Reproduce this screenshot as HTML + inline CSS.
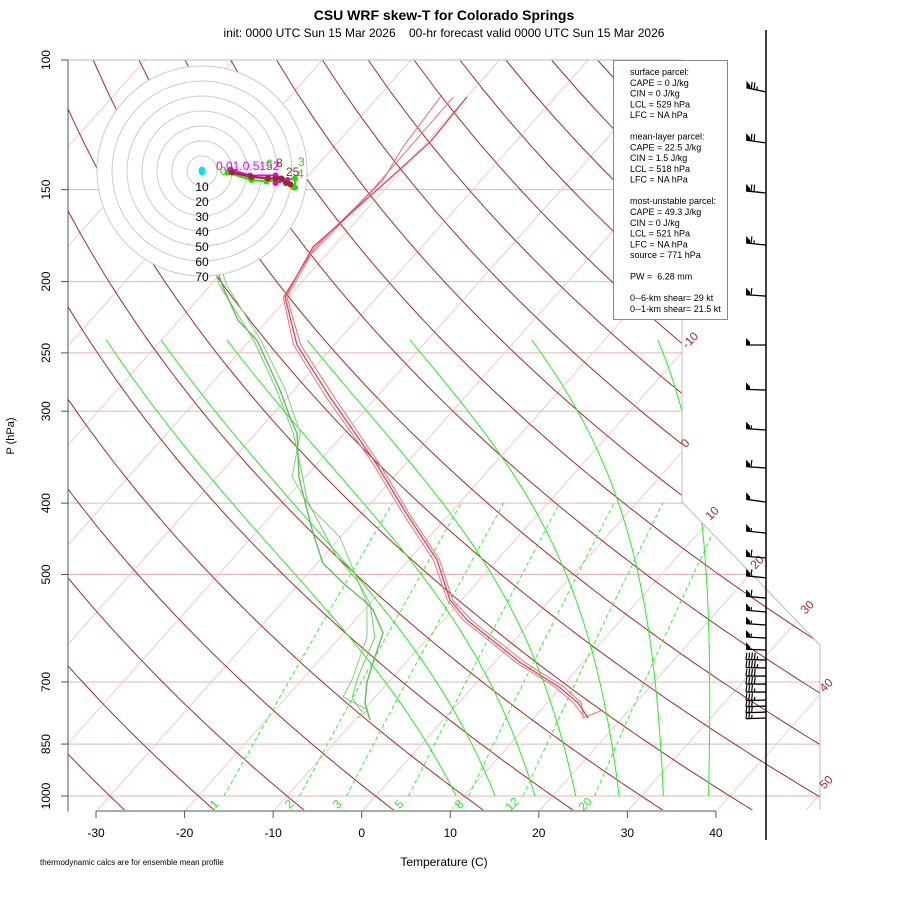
<!DOCTYPE html>
<html><head><meta charset="utf-8"><style>
body{margin:0;background:#fff}
svg{display:block;font-family:"Liberation Sans",sans-serif}
</style></head><body>
<svg id="c" width="900" height="900" viewBox="0 0 900 900">
<defs><clipPath id="clipPlot"><polygon points="68,60 682,60 682,502 820,645 820,810 68,810"/></clipPath></defs>
<g id="bg" clip-path="url(#clipPlot)"></g>
<g id="prof"></g>
<g id="hodo"></g>
<g id="axes"></g>
<g id="barbs"></g>
<text x="444" y="20" text-anchor="middle" font-size="14" font-weight="bold">CSU WRF skew-T for Colorado Springs</text>
<text x="444" y="37" text-anchor="middle" font-size="12" style="white-space:pre">init: 0000 UTC Sun 15 Mar 2026    00-hr forecast valid 0000 UTC Sun 15 Mar 2026</text>
<text x="444" y="866" text-anchor="middle" font-size="12">Temperature (C)</text>
<text transform="translate(14,436) rotate(-90)" text-anchor="middle" font-size="11">P (hPa)</text>
<text x="40" y="865" font-size="8">thermodynamic calcs are for ensemble mean profile</text>
<g>
<rect x="613.5" y="60.5" width="114" height="259" fill="#fff" stroke="#888" stroke-width="1"/>
<g id="boxtext" font-size="9"></g>
</g>
</svg>
<script>
// ---------- data ----------
const tempP1 = [783.4,747.4,711.0,659.7,576.6,541.6,477.9,412.6,352.9,287.0,243.9,209.9,179.5,166.5,145.6,129.3,112.3];
const tempT1 = [16.15,13.52,9.75,3.05,-7.37,-11.31,-16.79,-25.02,-33.44,-45.27,-54.22,-60.40,-62.27,-61.63,-60.53,-59.61,-59.96];
const tempP2 = [764.0,783.4,747.4,711.0,659.7,576.6,541.6,477.9,412.6,352.9,287.0,243.9,209.9,182.9,145.6,131.3,111.6];
const tempT2 = [17.0,15.6,13.9,10.3,3.6,-6.9,-11.0,-16.5,-24.7,-33.1,-44.8,-53.8,-60.2,-61.78,-61.1,-62.16,-62.98];
const tempP3 = [778.0,747.4,711.0,659.7,576.6,541.6,477.9,412.6,352.9,287.0,243.9,209.9,180.0,150.0,130.0,112.3];
const tempT3 = [15.4,13.0,9.3,2.6,-7.8,-11.6,-17.2,-25.4,-33.8,-45.7,-54.6,-60.6,-62.0,-61.3,-61.4,-61.5];
const dewP1 = [788.3,747.4,700.0,659.7,600.5,558.8,546.8,513.5,482.5,439.2,383.9,368.6,321.2,308.4,280.8,240.2,225.6,202.2,181.2];
const dewT1 = [-8.27,-10.55,-12.43,-13.67,-15.55,-19.0,-20.38,-25.1,-29.37,-33.51,-39.08,-40.72,-45.37,-47.36,-51.61,-59.24,-63.4,-68.7,-73.4];
const dewP2 = [783.4,764.0,733.6,695.8,608.1,546.8,444.8,404.9,368.6,321.2,280.8,240.2,202.2,181.2];
const dewT2 = [-9.83,-9.5,-13.63,-14.33,-16.96,-20.38,-30.06,-36.47,-41.5,-45.0,-51.0,-58.8,-68.2,-73.0];
const dewP3 = [768.8,735.8,689.2,608.1,546.8,508.7,473.5,396.1,368.6,321.2,280.8,240.2,202.2,181.2];
const dewT3 = [-9.98,-12.52,-13.95,-16.06,-20.04,-23.82,-28.39,-37.51,-40.3,-45.8,-52.0,-59.6,-69.0,-73.8];
const barbP = [110.5,129.6,151.6,178.4,209.3,243.9,280.8,318.2,358.4,398.7,439.3,474.9,505.4,538.3,562.3,585.7,610.0,633.3,653.4,670.0,687.1,704.5,722.4,740.7,754.7,769.0,783.4];
const barbSpd = [75,70,70,65,60,50,50,55,60,50,55,60,60,60,55,55,55,50,45,45,40,40,35,35,30,30,25];
const barbDir = [282,278,276,276,274,270,272,274,274,278,276,275,276,275,275,274,273,272,271,271,270,270,270,269,268,268,268];
const hodoU1 = [20,33,44,49,53,56,59];
const hodoV1 = [-1,-4,-5,-5,-5,-8,-9];
const hodoU2 = [17,33,43,52,62,62,61];
const hodoV2 = [-1,-6,-7,-6,-5,-11,-11];
const hodoU3 = [19,32,49,57,49];
const hodoV3 = [1,-3,-3,-6,-8];
const isoTemps = [-110,-100,-90,-80,-70,-60,-50,-40,-30,-20,-10,0,10,20,30,40,50];
const dryThetas = [-30,-20,-10,0,10,20,30,40,50,60,70,80,90,100,110,120,130,140,150,160,170];
const mixRatios = [1,2,3,5,8,12,20];
const moistT0 = [9.1,13.5,18.0,22.6,27.5,32.5,37.6];
const pLevels = [100,150,200,250,300,400,500,700,850,1000];
const tTicks = [-30,-20,-10,0,10,20,30,40];

// ---------- axes ----------
const NS='http://www.w3.org/2000/svg';
function ys(p){return 132.182-44.061*Math.log10(p);}
function X(T,p){return 375.6+16.4*(0.54*T+0.90692*ys(p));}
function Y(p){return 796-16.704*ys(p);}
function mk(tag,attrs,parent){const e=document.createElementNS(NS,tag);for(const k in attrs)e.setAttribute(k,attrs[k]);parent.appendChild(e);return e;}
function pathFrom(pts){return pts.map((q,i)=>(i?'L':'M')+q[0].toFixed(1)+','+q[1].toFixed(1)).join(' ');}
const bg=document.getElementById('bg'),prof=document.getElementById('prof'),axes=document.getElementById('axes');

pLevels.forEach(p=>{
  const l=mk('line',{x1:68,x2:820,y1:Y(p),y2:Y(p),stroke:'#e2b4b4','stroke-width':1},bg);
  
  
});
isoTemps.forEach(t=>{
  const l=mk('line',{x1:X(t,1050),y1:Y(1050),x2:X(t,100),y2:Y(100),stroke:'#efc6c6','stroke-width':0.9},bg);
  
  
});
dryThetas.forEach(th=>{
  const pts=[];for(let p=1050;p>=100;p-=10){pts.push([X((th+273.15)*Math.pow(p/1000,0.286)-273.15,p),Y(p)]);}
  const e=mk('path',{d:pathFrom(pts),fill:'none',stroke:'#a52a2a','stroke-width':1},bg);
  
  
});
function tdFromW(w,p){const e=w*p/(622+w);const L=Math.log(e/6.112);return 243.5*L/(17.67-L);}
mixRatios.forEach(w=>{
  const pts=[];for(let p=1000;p>=400;p-=10)pts.push([X(tdFromW(w,p),p),Y(p)]);
  const e=mk('path',{d:pathFrom(pts),fill:'none',stroke:'#22ee22','stroke-width':0.9,'stroke-dasharray':'4,3'},bg);
  
  
});
function dTdp(T,p){const es=6.112*Math.exp(17.67*(T-273.15)/(T-29.65));const rs=0.70*0.622*es/(p-es);const Lv=2.501e6,Rd=287.04,Cp=1005.7;
  return (1/p)*(Rd*T+Lv*rs)/(Cp+Lv*Lv*rs*0.622/(Rd*T*T));}
moistT0.forEach(t0=>{
  let T=t0+273.15,p=1000;const pts=[[X(t0,p),Y(p)]];
  while(p>240){const dp=-5;const k1=dTdp(T,p);const k2=dTdp(T+k1*dp,p+dp);T+=dp*(k1+k2)/2;p+=dp;pts.push([X(T-273.15,p),Y(p)]);}
  const e=mk('path',{d:pathFrom(pts),fill:'none',stroke:'#22ee22','stroke-width':1},bg);
  
  
});
const bd=mk('polyline',{points:'68,60 682,60 682,502 820,645 820,810',fill:'none',stroke:'#bbb','stroke-width':1},axes);


[['-10',693,343],['0',688,446],['10',715,516],['20',760,565],['30',810,610],['40',829,688],['50',829,785]].forEach(a=>{
  const t=mk('text',{transform:`translate(${a[1]},${a[2]}) rotate(-45)`,'text-anchor':'middle','font-size':12,fill:'#a52a2a'},axes);t.textContent=a[0];
  
  
});
[['1',217],['2',292],['3',340],['5',402],['8',462],['12',515],['20',588]].forEach(a=>{
  const t=mk('text',{transform:`translate(${a[1]},${807}) rotate(-45)`,'text-anchor':'middle','font-size':12,fill:'#22ee22'},axes);t.textContent=a[0];
  
  
});
mk('line',{x1:68,x2:68,y1:60,y2:Y(1050),stroke:'#555','stroke-width':1},axes);
pLevels.forEach(p=>{
  mk('line',{x1:61,x2:68,y1:Y(p),y2:Y(p),stroke:'#555'},axes);
  const t=mk('text',{transform:`translate(50,${Y(p)}) rotate(-90)`,'text-anchor':'middle','font-size':12},axes);t.textContent=p;
  
  
});
mk('line',{x1:X(-30,1050),x2:X(40,1050),y1:811,y2:811,stroke:'#555'},axes);
tTicks.forEach(t=>{
  const x=X(t,1050);
  mk('line',{x1:x,x2:x,y1:811,y2:818,stroke:'#555'},axes);
  const e=mk('text',{x:x,y:837,'text-anchor':'middle','font-size':12},axes);e.textContent=t;
  
  
});

// ---------- profiles ----------
function drawProf(P,T,color,w,name){
  const e=mk('path',{d:pathFrom(P.map((p,i)=>[X(T[i],p),Y(p)])),fill:'none',stroke:color,'stroke-width':w,'stroke-linejoin':'round'},prof);
  
  
}
drawProf(dewP2,dewT2,'#7fd07f',1,'dewpoint-member-2');
drawProf(dewP3,dewT3,'#6ccc6c',1,'dewpoint-member-3');
drawProf(dewP1,dewT1,'#5cc05c',1.4,'dewpoint-mean');
drawProf(tempP2,tempT2,'#e8707c',1,'temperature-member-2');
drawProf(tempP3,tempT3,'#e8707c',1,'temperature-member-3');
drawProf(tempP1,tempT1,'#e04456',1.3,'temperature-mean');

// ---------- hodograph ----------
const hodo=document.getElementById('hodo');const hx=202,hy=171,hs=1.5;
mk('circle',{cx:hx,cy:hy,r:105,fill:'#fff',stroke:'none'},hodo);
for(let k=1;k<=7;k++){
  const c=mk('circle',{cx:hx,cy:hy,r:15*k,fill:'none',stroke:'#cccccc','stroke-width':1},hodo);
  
  
  const t=mk('text',{x:hx,y:hy+15*k+5,'text-anchor':'middle','font-size':12},hodo);t.textContent=10*k;
  
  
}
const cy=mk('ellipse',{cx:hx,cy:hy,rx:3.5,ry:4.5,fill:'#00e5ee'},hodo);


function hodoLine(U,V,color,name){
  const pts=U.map((u,i)=>[hx+u*hs,hy-V[i]*hs]);
  const e=mk('path',{d:pathFrom(pts),fill:'none',stroke:color,'stroke-width':2},hodo);
  
  
  pts.forEach(q=>{const d=mk('circle',{cx:q[0],cy:q[1],r:3,fill:color},hodo);
    
    });
}
hodoLine(hodoU2,hodoV2,'#22dd00','hodograph-green');
hodoLine(hodoU3,hodoV3,'#ee00ee','hodograph-magenta');
hodoLine(hodoU1,hodoV1,'#9a2a2a','hodograph-brown');
[['0.01.0.5152',216,170,'#ee00ee'],['0',220,175,'#22dd00'],['6',266,168,'#22dd00'],['8',276,167,'#9a2a2a'],['3',298,166,'#22dd00'],['4',297,178,'#22dd00'],['25',286,176,'#9a2a2a']].forEach(a=>{
  const t=mk('text',{x:a[1],y:a[2],'font-size':12,fill:a[3]},hodo);t.textContent=a[0];
  
  
});

// ---------- wind barbs ----------
const barbs=document.getElementById('barbs');
const vl=mk('line',{x1:766,x2:766,y1:30,y2:840,stroke:'#000','stroke-width':1.5},barbs);


barbP.forEach((p,i)=>{
  const g=mk('g',{},barbs);
  
  
  const d=barbDir[i]*Math.PI/180,sx=Math.sin(d),sy=-Math.cos(d);
  const x0=766,y0=Y(p),L=20;
  const ex=x0+sx*L,ey=y0+sy*L;
  mk('line',{x1:x0,y1:y0,x2:ex,y2:ey,stroke:'#000','stroke-width':1.3},g);
  let s=Math.round(barbSpd[i]/5)*5,pos=0;
  while(s>=50){const ax=ex-sx*pos,ay=ey-sy*pos,bx=ex-sx*(pos+4),by=ey-sy*(pos+4);
    mk('polygon',{points:`${ax},${ay} ${ax},${ay-7} ${bx},${by-3} ${bx},${by}`,fill:'#000'},g);pos+=5;s-=50;}
  while(s>=10){const ax=ex-sx*pos,ay=ey-sy*pos;mk('line',{x1:ax,y1:ay,x2:ax+0.8,y2:ay-7,stroke:'#000','stroke-width':1.2},g);pos+=2.8;s-=10;}
  if(s>=5){const ax=ex-sx*pos,ay=ey-sy*pos;mk('line',{x1:ax,y1:ay,x2:ax+0.4,y2:ay-3.5,stroke:'#000','stroke-width':1.2},g);}
});

// ---------- info box ----------
const lines=['surface parcel:','CAPE = 0 J/kg','CIN = 0 J/kg','LCL = 529 hPa','LFC = NA hPa','','mean-layer parcel:','CAPE = 22.5 J/kg','CIN = 1.5 J/kg','LCL = 518 hPa','LFC = NA hPa','','most-unstable parcel:','CAPE = 49.3 J/kg','CIN = 0 J/kg','LCL = 521 hPa','LFC = NA hPa','source = 771 hPa','','PW =  6.28 mm','','0--6-km shear= 29 kt','0--1-km shear= 21.5 kt'];
const bt=document.getElementById('boxtext');
lines.forEach((s,i)=>{if(!s)return;const t=mk('text',{x:630,y:75+i*10.77,style:'white-space:pre'},bt);t.textContent=s;
  
  });
</script>
</body></html>
